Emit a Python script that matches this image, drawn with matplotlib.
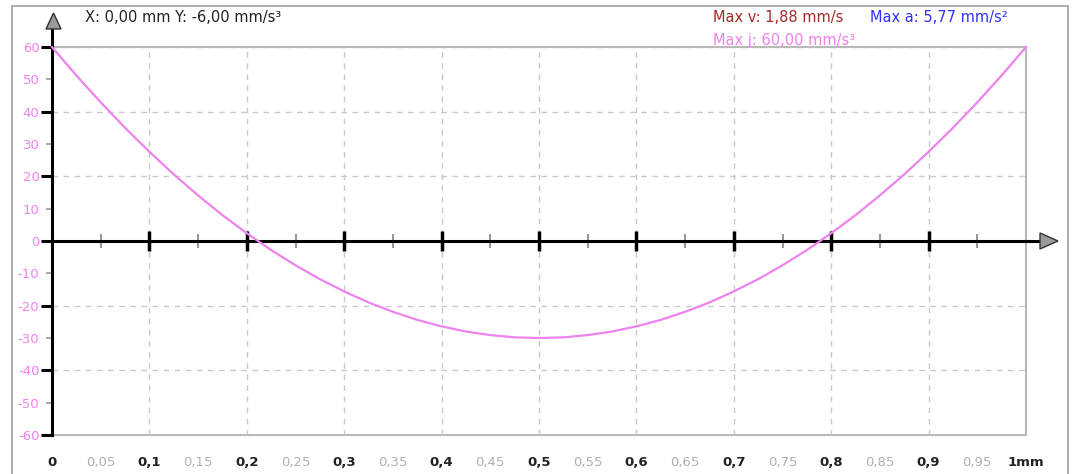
import matplotlib.pyplot as plt
import matplotlib.patches as patches
from matplotlib.ticker import FixedLocator, FixedFormatter

# Jerk curve (x in mm, j in mm/s^3)
x_pos = [0.0, 0.025, 0.05, 0.075, 0.1, 0.125, 0.15, 0.175, 0.2, 0.225,
         0.25, 0.275, 0.3, 0.325, 0.35, 0.375, 0.4, 0.425, 0.45, 0.475,
         0.5, 0.525, 0.55, 0.575, 0.6, 0.625, 0.65, 0.675, 0.7, 0.725,
         0.75, 0.775, 0.8, 0.825, 0.85, 0.875, 0.9, 0.925, 0.95, 0.975, 1.0]
jerk = [60.0, 51.2, 42.9, 35.0, 27.6, 20.6, 14.1, 8.0, 2.4, -2.8,
        -7.5, -11.8, -15.6, -19.0, -21.9, -24.4, -26.4, -28.0, -29.1, -29.8,
        -30.0, -29.8, -29.1, -28.0, -26.4, -24.4, -21.9, -19.0, -15.6, -11.8,
        -7.5, -2.8, 2.4, 8.0, 14.1, 20.6, 27.6, 35.0, 42.9, 51.2, 60.0]

# Axis ticks and labels
x_major = [0.0, 0.1, 0.2, 0.3, 0.4, 0.5, 0.6, 0.7, 0.8, 0.9, 1.0]
x_major_labels = ['0', '0,1', '0,2', '0,3', '0,4', '0,5', '0,6', '0,7', '0,8', '0,9', '1mm']
x_minor = [0.05, 0.15, 0.25, 0.35, 0.45, 0.55, 0.65, 0.75, 0.85, 0.95]
x_minor_labels = ['0,05', '0,15', '0,25', '0,35', '0,45', '0,55', '0,65', '0,75', '0,85', '0,95']
y_major = [-60, -40, -20, 0, 20, 40, 60]
y_major_labels = ['-60', '-40', '-20', '0', '20', '40', '60']
y_minor = [-50, -30, -10, 10, 30, 50]
y_minor_labels = ['-50', '-30', '-10', '10', '30', '50']

info_text = 'X: 0,00 mm Y: -6,00 mm/s³'
max_v = 'Max v: 1,88 mm/s'
max_a = 'Max a: 5,77 mm/s²'
max_j = 'Max j: 60,00 mm/s³'

violet = '#ee82ee'
grid_col = '#c8c8c8'

W, H = 1076, 474
fig = plt.figure(figsize=(W / 100, H / 100), dpi=100)
plt.rcParams['font.family'] = 'DejaVu Sans'

# Outer frame
fig.patches.append(patches.Rectangle((12 / W, -0.1), 1056 / W, 1.1 - 6 / H,
                                     transform=fig.transFigure, fill=False,
                                     edgecolor='#a0a0a0', linewidth=1.2))

ax = fig.add_axes([52 / W, 1 - 435 / H, 974 / W, 388 / H])
ax.set_xlim(0, 1)
ax.set_ylim(-60, 60)

# Grid
for gx in x_major[1:-1]:
    ax.axvline(gx, color=grid_col, linestyle=(0, (4, 4)), linewidth=1, zorder=1)
for gy in [-60, -40, -20, 20, 40, 60]:
    ax.axhline(gy, color=grid_col, linestyle=(0, (4, 4)), linewidth=1, zorder=1)

# Border of plot area
for side in ['top', 'right']:
    ax.spines[side].set_color('#b8b8b8')
    ax.spines[side].set_linewidth(1.5)
ax.spines['left'].set_color('black')
ax.spines['left'].set_linewidth(2.2)
ax.spines['left'].set_zorder(4)

# x axis line at y = 0 with ticks
ax.spines['bottom'].set_position(('data', 0))
ax.spines['bottom'].set_color('black')
ax.spines['bottom'].set_linewidth(2.2)
ax.spines['bottom'].set_zorder(4)
ax.xaxis.set_major_locator(FixedLocator(x_major[1:-1]))
ax.xaxis.set_minor_locator(FixedLocator(x_minor))
ax.tick_params(axis='x', which='major', direction='inout', length=14, width=2.5,
               color='black', labelbottom=False)
ax.tick_params(axis='x', which='minor', direction='inout', length=10, width=1.5,
               color='#999999', labelbottom=False)

# y ticks
ax.yaxis.set_major_locator(FixedLocator(y_major))
ax.yaxis.set_major_formatter(FixedFormatter(y_major_labels))
ax.yaxis.set_minor_locator(FixedLocator(y_minor))
ax.yaxis.set_minor_formatter(FixedFormatter(y_minor_labels))
ax.tick_params(axis='y', which='major', length=8, width=2.2, color='black',
               labelcolor=violet, labelsize=9.5, pad=1)
ax.tick_params(axis='y', which='minor', length=4, width=1.2, color='#999999',
               labelcolor=violet, labelsize=9.5, pad=5)

# bottom labels on a secondary axis at the bottom border
sec = ax.secondary_xaxis(0.0)
sec.spines['bottom'].set_color('#b8b8b8')
sec.spines['bottom'].set_linewidth(1.5)
sec.xaxis.set_major_locator(FixedLocator(x_major))
sec.xaxis.set_major_formatter(FixedFormatter(x_major_labels))
sec.xaxis.set_minor_locator(FixedLocator(x_minor))
sec.xaxis.set_minor_formatter(FixedFormatter(x_minor_labels))
sec.tick_params(axis='x', which='major', length=0, pad=15, labelsize=9.5,
                labelcolor='#222222')
sec.tick_params(axis='x', which='minor', length=0, pad=15, labelsize=9.5,
                labelcolor='#b0b0b0')
for lbl in sec.get_xticklabels():
    lbl.set_fontweight('bold')

# Curve
ax.plot(x_pos, jerk, color=violet, linewidth=1.6, zorder=5, clip_on=False)

# Axis extensions and arrows
ax.plot([0, 0], [60, 66], color='black', linewidth=2.2, clip_on=False, zorder=4)
ax.plot([1, 1.015], [0, 0], color='black', linewidth=2.2, clip_on=False, zorder=4)
ax.add_patch(patches.Polygon([(46 / W, 1 - 29 / H), (61 / W, 1 - 29 / H), (53.5 / W, 1 - 13 / H)],
                             closed=True, transform=fig.transFigure, facecolor='#9a9a9a',
                             edgecolor='#333333', linewidth=1, clip_on=False, zorder=6))
ax.add_patch(patches.Polygon([(1040 / W, 1 - 233 / H), (1040 / W, 1 - 249 / H), (1058 / W, 1 - 241 / H)],
                             closed=True, transform=fig.transFigure, facecolor='#9a9a9a',
                             edgecolor='#333333', linewidth=1, clip_on=False, zorder=6))

# Header texts
fig.text(85 / W, 1 - 18 / H, info_text, fontsize=10.5, color='#222222', va='center')
fig.text(713 / W, 1 - 18 / H, max_v, fontsize=10.5, color='#a52a2a', va='center')
fig.text(870 / W, 1 - 18 / H, max_a, fontsize=10.5, color='#3030ff', va='center')
fig.text(713 / W, 1 - 40 / H, max_j, fontsize=10.5, color=violet, va='center')

fig.savefig('out.png', dpi=100)
